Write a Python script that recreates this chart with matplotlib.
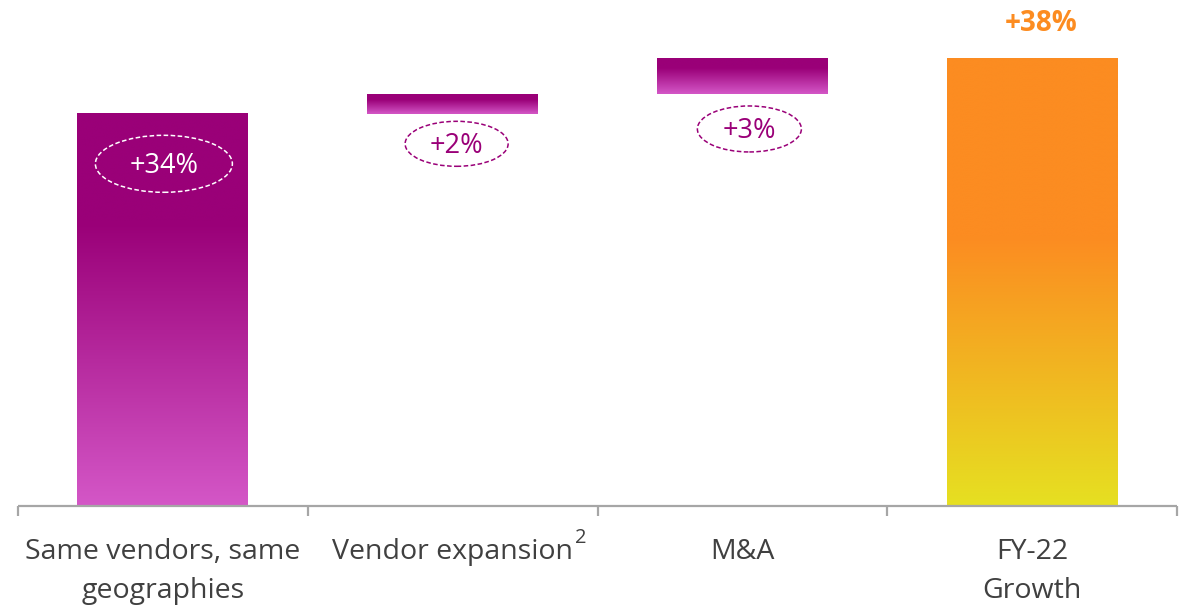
import numpy as np
import matplotlib
matplotlib.use("Agg")
import matplotlib.pyplot as plt
from matplotlib.colors import LinearSegmentedColormap
from matplotlib.patches import Ellipse
from matplotlib.transforms import blended_transform_factory

# ---- data -------------------------------------------------------------
categories = ["Same vendors, same\ngeographies", "Vendor expansion", "M&A", "FY-22\nGrowth"]
superscripts = ["", "2", "", ""]
contributions = [33.6, 1.7, 3.0]          # growth contribution, percentage points
total_growth = sum(contributions)          # FY-22 growth, percentage points

# ---- styling ----------------------------------------------------------
FONT = "Open Sans"
plt.rcParams["font.family"] = [FONT, "DejaVu Sans"]
PURPLE_DARK = "#9a0078"
PURPLE_LIGHT = "#d457c7"
ORANGE = "#fc8c21"
YELLOW = "#e6e021"
LABEL_GREY = "#404040"
AXIS_GREY = "#a6a6a6"

purple_cmap = LinearSegmentedColormap.from_list(
    "purple", [(0.0, PURPLE_LIGHT), (0.72, PURPLE_DARK), (1.0, PURPLE_DARK)])
orange_cmap = LinearSegmentedColormap.from_list(
    "orange", [(0.0, YELLOW), (0.6, ORANGE), (1.0, ORANGE)])

W, H, DPI = 1190, 606, 100
fig = plt.figure(figsize=(W / DPI, H / DPI), dpi=DPI)
ax = fig.add_axes([18 / W, 100 / H, (1177 - 18) / W, 506 / H])
ax.set_xlim(-0.5, 3.5)
ax.set_ylim(0, 43.35)
ax.axis("off")

px_x = (1177 - 18) / 4          # pixels per category
px_y = 506 / 43.35              # pixels per percentage point
bar_w = 0.59


def gradient_bar(x, bottom, top, cmap):
    left, right = x - bar_w / 2, x + bar_w / 2
    grad = np.linspace(0, 1, 256).reshape(-1, 1)
    ax.imshow(grad, cmap=cmap, origin="lower", aspect="auto",
              extent=(left, right, bottom, top), interpolation="bicubic", zorder=2)


# waterfall steps
x = np.arange(len(categories))
running = 0.0
bottoms = []
for i, v in enumerate(contributions):
    bottoms.append(running)
    gradient_bar(x[i], running, running + v, purple_cmap)
    running += v
gradient_bar(x[3], 0, total_growth, orange_cmap)

# dashed ellipse labels
ell_specs = [
    # (x shift px, y centre, width px, height px, text colour, edge colour)
    (1, contributions[0] + bottoms[0] - 50 / px_y, 137, 57, "white", "white"),
    (4, bottoms[1] - 30 / px_y, 103, 45, PURPLE_DARK, PURPLE_DARK),
    (7, bottoms[2] - 35 / px_y, 104, 46, PURPLE_DARK, PURPLE_DARK),
]
for i, (dx, yc, ew, eh, tc, ec) in enumerate(ell_specs):
    xc = x[i] + dx / px_x
    ax.add_patch(Ellipse((xc, yc), ew / px_x, eh / px_y, fill=False,
                         edgecolor=ec, linestyle=(0, (3, 1.6)), lw=1.1, zorder=3))
    ax.text(xc, yc - 2.5 / px_y, f"+{contributions[i]:.0f}%", color=tc,
            fontsize=19.5, ha="center", va="center", zorder=4)

# total label
ax.text(x[3] + 9 / px_x, total_growth + 35 / px_y, f"+{total_growth:.0f}%",
        color=ORANGE, fontsize=20, fontweight="bold", ha="center", va="center")

# baseline axis with category separators
ax.plot([-0.5, 3.5], [0, 0], color=AXIS_GREY, lw=1.6, clip_on=False, zorder=5,
        solid_capstyle="butt")
for sep in np.arange(-0.5, 4.0, 1.0):
    ax.plot([sep, sep], [0, -10 / px_y], color=AXIS_GREY, lw=1.6,
            clip_on=False, zorder=5, solid_capstyle="butt")

# category labels
tr = blended_transform_factory(ax.transData, fig.transFigure)
for i, (lab, sup) in enumerate(zip(categories, superscripts)):
    for j, line in enumerate(lab.split("\n")):
        t = ax.text(x[i], 1 - (552 + 39 * j) / H, line, transform=tr,
                    ha="center", va="center", fontsize=20.5, color=LABEL_GREY)
    if sup:
        ax.annotate(sup, xy=(1, 1), xycoords=t, xytext=(1, 0),
                    textcoords="offset points", ha="left", va="center",
                    fontsize=14.5, color=LABEL_GREY)

fig.savefig("out.png", dpi=DPI)
